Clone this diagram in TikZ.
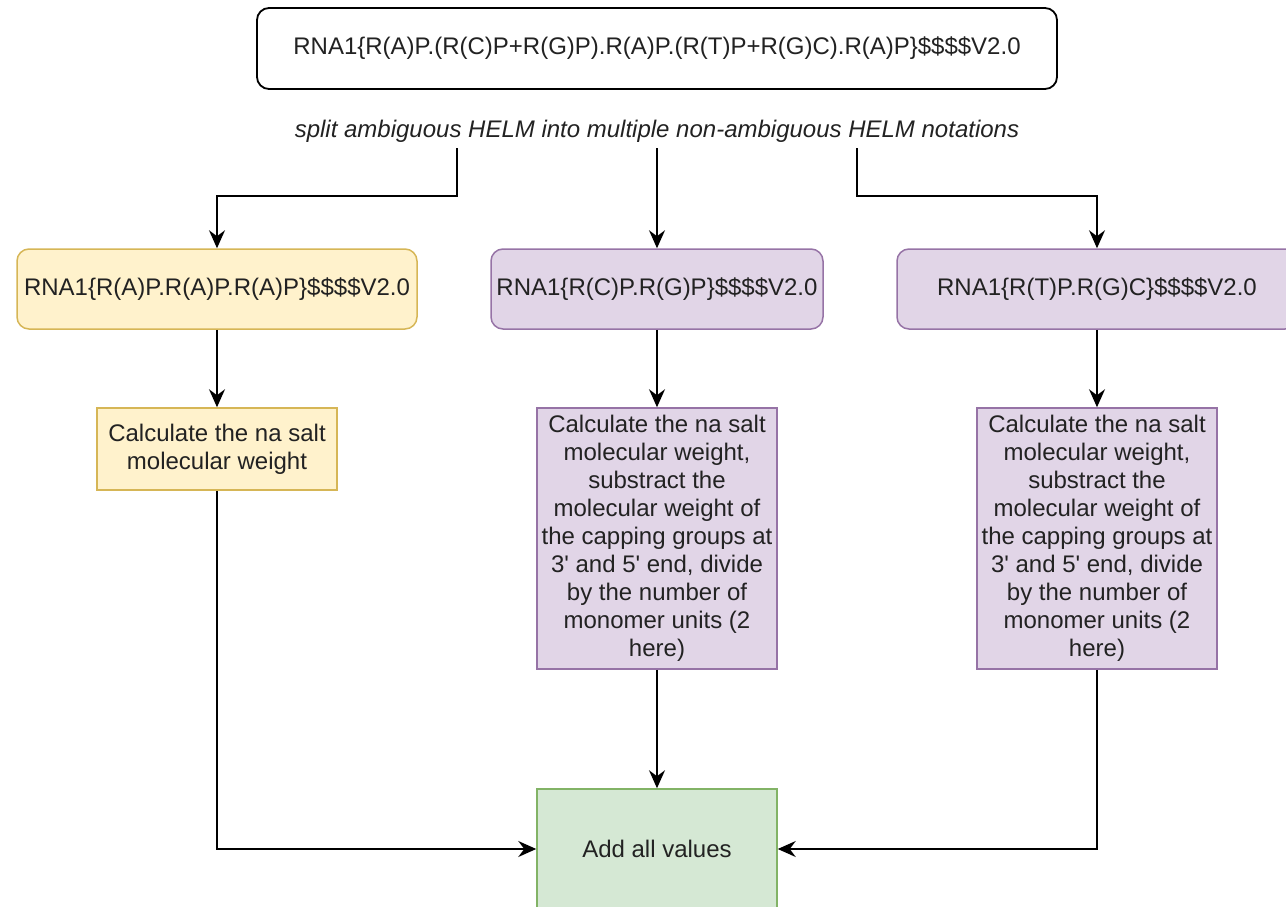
\documentclass[tikz,border=0pt]{standalone}
\usepackage{fontspec}
\setmainfont{Liberation Sans}[Ligatures=TeXOff]
\usetikzlibrary{arrows.meta,calc}
\definecolor{txt}{HTML}{222222}
\definecolor{ylwfill}{HTML}{FFF2CC}
\definecolor{ylwline}{HTML}{D6B656}
\definecolor{prpfill}{HTML}{E1D5E7}
\definecolor{prpline}{HTML}{9673A6}
\definecolor{grnfill}{HTML}{D5E8D4}
\definecolor{grnline}{HTML}{82B366}
\begin{document}
\begin{tikzpicture}[x=1pt,y=-1pt,
  base/.style={align=center, inner sep=0pt, text=txt,
    font=\fontsize{24}{28}\selectfont},
  box/.style={base, draw, line width=1.5pt},
  helm/.style={box, rounded corners=12pt, minimum height=80pt},
  yellowbox/.style={fill=ylwfill, draw=ylwline},
  purplebox/.style={fill=prpfill, draw=prpline},
  greenbox/.style={fill=grnfill, draw=grnline},
  arr/.style={draw=black, line width=1.8pt,
    -{Stealth[length=18pt,width=16pt,inset=6pt]}}
]
\useasboundingbox (0,0) rectangle (1286,907);

% input notation and splitting step
\node[helm, fill=white, draw=black, line width=1.8pt, minimum width=800pt, minimum height=81pt]
  (input) at (657,48.5) {RNA1\{R(A)P.(R(C)P+R(G)P).R(A)P.(R(T)P+R(G)C).R(A)P\}\$\$\$\$V2.0};
\node[base, font=\fontsize{24}{28}\selectfont\itshape, minimum width=800pt, minimum height=34pt]
  (split) at (657,131) {split ambiguous HELM into multiple non-ambiguous HELM notations};

% non-ambiguous notations
\node[helm, yellowbox, minimum width=400pt] (hA) at (217,289)
  {RNA1\{R(A)P.R(A)P.R(A)P\}\$\$\$\$V2.0};
\node[helm, purplebox, minimum width=332pt] (hB) at (657,289)
  {RNA1\{R(C)P.R(G)P\}\$\$\$\$V2.0};
\node[helm, purplebox, minimum width=400pt] (hC) at (1097,289)
  {RNA1\{R(T)P.R(G)C\}\$\$\$\$V2.0};

% weight calculations
\node[box, yellowbox, minimum width=240pt, minimum height=82pt] (cA) at (217,449)
  {Calculate the na salt\\molecular weight};
\node[box, purplebox, minimum width=240pt, minimum height=261pt] (cB) at (657,538.5)
  {Calculate the na salt\\molecular weight,\\substract the\\molecular weight of\\the capping groups at\\3' and 5' end, divide\\by the number of\\monomer units (2\\here)};
\node[box, purplebox, minimum width=240pt, minimum height=261pt] (cC) at (1097,538.5)
  {Calculate the na salt\\molecular weight,\\substract the\\molecular weight of\\the capping groups at\\3' and 5' end, divide\\by the number of\\monomer units (2\\here)};

% sum
\node[box, greenbox, minimum width=240pt, minimum height=120pt] (sum) at (657,849)
  {Add all values};

% connectors
\draw[arr] ($(split.south west)!0.25!(split.south east)$) -- ++(0,48) -| (hA.north);
\draw[arr] (split.south) -- (hB.north);
\draw[arr] ($(split.south west)!0.75!(split.south east)$) -- ++(0,48) -| (hC.north);
\draw[arr] (hA) -- (cA);
\draw[arr] (hB) -- (cB);
\draw[arr] (hC) -- (cC);
\draw[arr] (cA.south) |- (sum.west);
\draw[arr] (cB) -- (sum);
\draw[arr] (cC.south) |- (sum.east);
\end{tikzpicture}
\end{document}
